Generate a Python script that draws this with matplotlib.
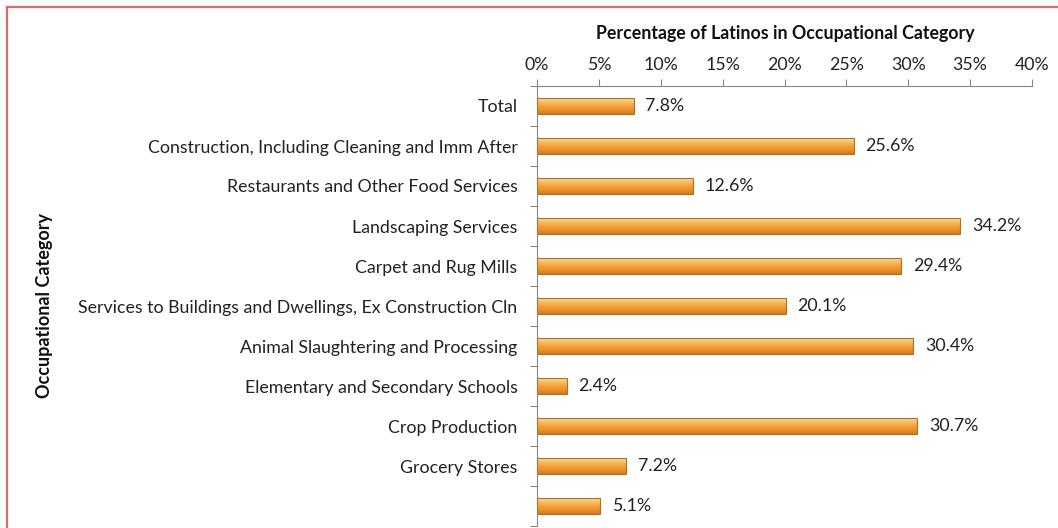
import matplotlib
matplotlib.use("Agg")
import matplotlib.pyplot as plt
import numpy as np
from matplotlib.colors import LinearSegmentedColormap
from matplotlib.lines import Line2D
from matplotlib.ticker import FixedLocator, FuncFormatter

plt.rcParams['font.family'] = ['Lato', 'DejaVu Sans']

categories = [
    "Total",
    "Construction, Including Cleaning and Imm After",
    "Restaurants and Other Food Services",
    "Landscaping Services",
    "Carpet and Rug Mills",
    "Services to Buildings and Dwellings, Ex Construction Cln",
    "Animal Slaughtering and Processing",
    "Elementary and Secondary Schools",
    "Crop Production",
    "Grocery Stores",
    "",
]
percent_latino = [7.8, 25.6, 12.6, 34.2, 29.4, 20.1, 30.4, 2.4, 30.7, 7.2, 5.1]
x_ticks = [0, 5, 10, 15, 20, 25, 30, 35, 40]

W, H = 1058, 528
fig = plt.figure(figsize=(W / 100, H / 100), dpi=100)
ax = fig.add_axes([537 / W, 1 - 526 / H, (1032 - 537) / W, (526 - 86) / H])

y = np.arange(len(categories))
bar_h = 0.39

# orange bevel-like gradient, light on top, darker toward the bottom
grad = LinearSegmentedColormap.from_list(
    "bevel", ["#FCDC9C", "#F8BE68", "#F3A13C", "#EA922C", "#CF7A20"])
gimg = np.linspace(0, 1, 64).reshape(-1, 1)

bars = ax.barh(y, percent_latino, height=bar_h, color="none",
               edgecolor="#B86E22", linewidth=0.8, zorder=3)
for rect in bars:
    x0, y0 = rect.get_x(), rect.get_y()
    w, h = rect.get_width(), rect.get_height()
    im = ax.imshow(gimg, cmap=grad, aspect="auto",
                   extent=(x0, x0 + w, y0 + h, y0), zorder=2,
                   interpolation="bicubic")
    im.set_clip_path(rect)

for yi, v in zip(y, percent_latino):
    ax.annotate(f"{v:.1f}%", xy=(v, yi), xytext=(8.5, 0),
                textcoords="offset points", va="center", ha="left",
                fontsize=12.8, color="#222222")

ax.set_xlim(0, 40)
ax.set_ylim(len(categories) - 0.5, -0.5)

ax.xaxis.set_ticks_position("top")
ax.xaxis.set_label_position("top")
ax.set_xticks(x_ticks)
ax.xaxis.set_major_formatter(FuncFormatter(lambda v, p: f"{v:.0f}%"))
ax.tick_params(axis="x", direction="out", length=5, width=0.8,
               color="#868686", labelsize=12.8, pad=4, labelcolor="#222222")

ax.set_yticks(y)
ax.set_yticklabels(categories)
ax.yaxis.set_minor_locator(FixedLocator(np.arange(-0.5, len(categories), 1.0)))
ax.tick_params(axis="y", which="major", length=0, pad=14,
               labelsize=12.8, labelcolor="#222222")
ax.tick_params(axis="y", which="minor", direction="out", length=5,
               width=0.8, color="#868686")

for side in ("right", "bottom"):
    ax.spines[side].set_visible(False)
for side in ("top", "left"):
    ax.spines[side].set_color("#868686")
    ax.spines[side].set_linewidth(0.8)

fig.text(785 / W, 1 - 33 / H, "Percentage of Latinos in Occupational Category",
         ha="center", va="center", fontsize=12.8, fontweight="bold",
         color="#111111")
fig.text(45 / W, 1 - 306 / H, "Occupational Category", rotation=90,
         ha="center", va="center", fontsize=13, fontweight="bold",
         color="#111111")

# thin red frame along top and left edges
fig.add_artist(Line2D([7 / W, 1], [1 - 7 / H, 1 - 7 / H], color="#E06A6A",
                      linewidth=1.6, transform=fig.transFigure))
fig.add_artist(Line2D([7 / W, 7 / W], [0, 1 - 7 / H], color="#E06A6A",
                      linewidth=1.6, transform=fig.transFigure))

fig.savefig("out.png", dpi=100)
